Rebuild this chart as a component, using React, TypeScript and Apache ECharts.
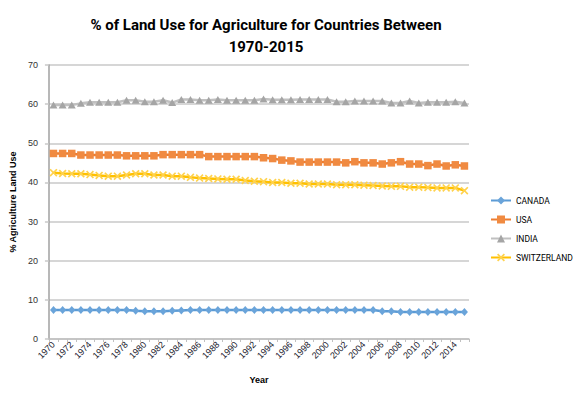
import React, { useEffect, useRef } from "react";
import * as echarts from "echarts";

const years = [
  "1970", "1971", "1972", "1973", "1974", "1975", "1976", "1977", "1978", "1979",
  "1980", "1981", "1982", "1983", "1984", "1985", "1986", "1987", "1988", "1989",
  "1990", "1991", "1992", "1993", "1994", "1995", "1996", "1997", "1998", "1999",
  "2000", "2001", "2002", "2003", "2004", "2005", "2006", "2007", "2008", "2009",
  "2010", "2011", "2012", "2013", "2014", "2015",
];

const canada = [
  7.4, 7.4, 7.4, 7.4, 7.4, 7.4, 7.4, 7.4, 7.4, 7.2,
  7.1, 7.1, 7.1, 7.2, 7.3, 7.4, 7.4, 7.4, 7.4, 7.4,
  7.4, 7.4, 7.4, 7.4, 7.4, 7.4, 7.4, 7.4, 7.4, 7.4,
  7.4, 7.4, 7.4, 7.4, 7.4, 7.4, 7.1, 7.1, 6.9, 6.9,
  6.9, 6.9, 6.9, 6.9, 6.9, 6.9,
];

const usa = [
  47.4, 47.4, 47.4, 47.0, 47.0, 47.0, 47.0, 47.0, 46.8, 46.8,
  46.8, 46.8, 47.1, 47.1, 47.1, 47.1, 47.1, 46.6, 46.6, 46.6,
  46.6, 46.6, 46.6, 46.3, 46.1, 45.7, 45.5, 45.2, 45.2, 45.2,
  45.2, 45.2, 45.0, 45.3, 45.0, 45.0, 44.7, 45.0, 45.3, 44.7,
  44.7, 44.3, 44.7, 44.2, 44.5, 44.2,
];

const india = [
  59.8, 59.8, 59.8, 60.2, 60.5, 60.5, 60.5, 60.5, 61.0, 61.0,
  60.6, 60.6, 61.0, 60.4, 61.2, 61.2, 61.0, 61.0, 61.2, 61.0,
  61.0, 61.0, 61.0, 61.3, 61.1, 61.1, 61.1, 61.2, 61.2, 61.2,
  61.2, 60.6, 60.6, 60.8, 60.8, 60.8, 60.8, 60.3, 60.3, 60.8,
  60.3, 60.5, 60.5, 60.5, 60.6, 60.3,
];

const switzerland = [
  42.5, 42.3, 42.2, 42.2, 42.0, 41.8, 41.6, 41.6, 41.9, 42.2,
  42.2, 41.9, 41.9, 41.6, 41.6, 41.3, 41.1, 41.0, 40.9, 40.8,
  40.8, 40.5, 40.3, 40.2, 40.0, 40.0, 39.8, 39.8, 39.6, 39.6,
  39.6, 39.4, 39.4, 39.4, 39.3, 39.2, 39.1, 39.0, 39.0, 38.8,
  38.8, 38.7, 38.6, 38.6, 38.6, 37.9,
];

const seriesNames = ["CANADA", "USA", "INDIA", "SWITZERLAND"];
const yTicks = { min: 0, max: 70, interval: 10 };

const xSymbol =
  "path://M0,1.5L1.5,0L5,3.5L8.5,0L10,1.5L6.5,5L10,8.5L8.5,10L5,6.5L1.5,10L0,8.5L3.5,5Z";

export default function App() {
  const ref = useRef<HTMLDivElement>(null);

  useEffect(() => {
    if (!ref.current) return;
    const chart = echarts.init(ref.current, undefined, { renderer: "svg" });
    const font = "Roboto, sans-serif";
    const smallFont = "'Liberation Sans', Arial, sans-serif";

    chart.setOption({
      animation: false,
      backgroundColor: "#ffffff",
      title: {
        text: "% of Land Use for Agriculture for Countries Between\n1970-2015",
        left: 261,
        top: 9,
        textAlign: "center",
        textStyle: {
          fontFamily: font,
          fontSize: 15,
          fontWeight: "bold",
          color: "#000000",
          lineHeight: 22,
        },
      },
      legend: {
        data: seriesNames,
        orient: "vertical",
        left: 485,
        top: 191,
        itemWidth: 20,
        itemHeight: 10,
        itemGap: 10,
        textStyle: {
          fontFamily: "Roboto, sans-serif",
          fontSize: 8.5,
          color: "#000000",
        },
      },
      grid: { left: 45, right: 112, top: 65, bottom: 58 },
      xAxis: {
        type: "category",
        data: years,
        boundaryGap: true,
        name: "Year",
        nameLocation: "middle",
        nameGap: 36,
        nameTextStyle: {
          fontFamily: smallFont,
          fontSize: 9,
          fontWeight: "bold",
          color: "#000000",
        },
        axisLine: { show: true, lineStyle: { color: "#c0c0c0", width: 1.5 } },
        axisTick: {
          show: true,
          interval: 0,
          length: 3,
          lineStyle: { color: "#c0c0c0", width: 1 },
        },
        axisLabel: {
          interval: 1,
          rotate: 45,
          margin: 4,
          fontFamily: smallFont,
          fontSize: 9,
          color: "#1a1a2e",
        },
        splitLine: { show: false },
      },
      yAxis: {
        type: "value",
        min: yTicks.min,
        max: yTicks.max,
        interval: yTicks.interval,
        name: "% Agriculture Land Use",
        nameLocation: "middle",
        nameGap: 23,
        nameRotate: 90,
        nameTextStyle: {
          fontFamily: smallFont,
          fontSize: 9,
          fontWeight: "bold",
          color: "#000000",
        },
        axisLine: { show: true, lineStyle: { color: "#a0a0a0", width: 1.5 } },
        axisTick: {
          show: true,
          inside: false,
          length: 4,
          lineStyle: { color: "#c8c8c8", width: 1.5 },
        },
        axisLabel: {
          margin: 11,
          fontFamily: smallFont,
          fontSize: 9,
          color: "#333333",
        },
        splitLine: { show: true, lineStyle: { color: "#c8c8c8", width: 1.5 } },
      },
      series: [
        {
          name: "CANADA",
          type: "line",
          data: canada,
          showAllSymbol: true,
          symbol: "diamond",
          symbolSize: [7, 8],
          color: "#5B9BD5",
          lineStyle: { width: 2.5, color: "#5B9BD5" },
          itemStyle: { color: "#6aa4da" },
        },
        {
          name: "USA",
          type: "line",
          data: usa,
          showAllSymbol: true,
          symbol: "rect",
          symbolSize: 7.5,
          color: "#ED7D31",
          lineStyle: { width: 2.5, color: "#ED7D31" },
          itemStyle: { color: "#f08a41" },
        },
        {
          name: "INDIA",
          type: "line",
          data: india,
          showAllSymbol: true,
          symbol: "triangle",
          symbolSize: [8, 7],
          color: "#A5A5A5",
          lineStyle: { width: 2.5, color: "#c0c0c0" },
          itemStyle: { color: "#a5a5a5" },
        },
        {
          name: "SWITZERLAND",
          type: "line",
          data: switzerland,
          showAllSymbol: true,
          symbol: xSymbol,
          symbolSize: 8,
          color: "#FFC000",
          lineStyle: { width: 2.5, color: "#FFC000" },
          itemStyle: { color: "#ffd24d" },
        },
      ],
    });

    return () => chart.dispose();
  }, []);

  return <div ref={ref} style={{ width: 581, height: 397, margin: -8 }} />;
}
